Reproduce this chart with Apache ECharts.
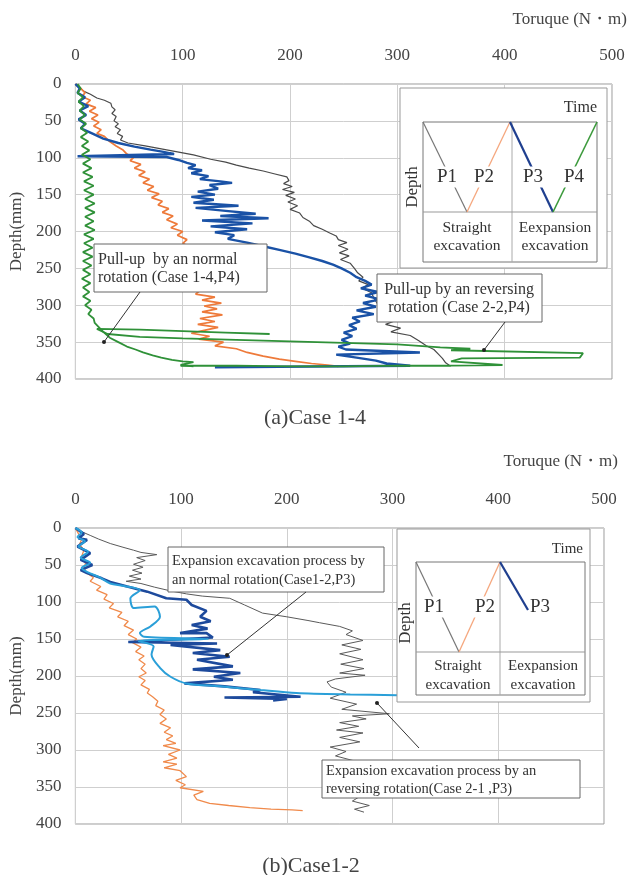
<!DOCTYPE html>
<html>
<head>
<meta charset="utf-8">
<script src="https://cdn.jsdelivr.net/npm/echarts@6/dist/echarts.min.js"></script>
<style>
  html, body { margin: 0; padding: 0; background: #fff; }
  #chart { width: 629px; height: 875px; }
</style>
</head>
<body>
<div id="chart"></div>
<script>
// (a) Case 1-4 : [torque N·m, depth mm]
const topP1Gray = [[0,0],[4,5],[8,10],[14,14],[20,19],[27,22],[33,26],[34,31],[37,35],[34,40],[38,44],[36,50],[40,54],[37,58],[42,62],[39,67],[44,71],[42,76],[49,80],[65,84],[80,88],[95,92],[110,96],[126,102],[140,106],[150,110],[162,114],[175,118],[186,122],[197,126],[199,131],[194,135],[202,139],[193,143],[204,147],[196,151],[205,156],[198,160],[207,165],[200,170],[209,175],[212,181],[218,186],[222,192],[230,197],[237,202],[243,206],[245,211],[253,215],[245,219],[254,224],[246,229],[255,233],[247,238],[256,243],[260,250],[263,256],[268,262],[264,267],[273,272],[267,277],[276,283],[278,290],[281,297],[285,304],[292,310],[287,315],[298,321],[289,326],[303,331],[294,336],[312,341],[320,348],[327,355],[334,360],[338,366],[342,372],[345,378],[349,382]];
const topP2Orange = [[0,0],[5,6],[9,12],[6,17],[14,22],[10,27],[19,32],[13,37],[21,42],[15,47],[22,52],[17,57],[24,62],[20,67],[27,71],[32,78],[38,84],[44,89],[48,95],[54,100],[51,104],[61,109],[55,114],[65,119],[59,124],[69,129],[63,134],[73,139],[67,144],[78,149],[71,154],[81,159],[77,164],[87,169],[81,174],[91,179],[85,184],[95,190],[89,195],[100,200],[95,205],[104,211],[100,216],[108,222],[104,230],[110,240],[106,250],[113,260],[110,270],[116,280],[112,285],[130,289],[118,293],[136,297],[120,301],[132,305],[118,309],[137,313],[116,318],[130,322],[114,326],[133,330],[120,334],[108,338],[125,342],[115,346],[138,350],[130,355],[150,359],[160,364],[175,369],[190,373],[205,376],[220,379],[235,381],[245,383]];
const topP3Blue = [[0,0],[4,6],[2,12],[9,18],[3,24],[12,30],[4,36],[10,42],[3,48],[9,54],[5,60],[14,66],[26,74],[40,80],[55,85],[70,89],[82,92],[92,95],[2,98],[85,99],[96,103],[104,107],[112,110],[105,114],[118,117],[108,121],[124,125],[116,129],[135,132],[146,134],[125,137],[133,142],[114,146],[130,150],[108,153],[129,157],[110,161],[152,165],[112,168],[140,172],[168,176],[135,179],[180,182],[118,185],[165,189],[126,193],[160,197],[130,201],[148,205],[142,210],[160,215],[175,220],[190,225],[205,230],[218,235],[230,240],[240,245],[248,250],[256,256],[262,262],[270,267],[276,272],[266,277],[282,282],[270,287],[284,292],[268,297],[280,302],[262,307],[278,312],[258,317],[265,322],[255,327],[262,332],[250,337],[258,342],[248,347],[256,352],[245,356],[252,360],[321,364],[243,367],[262,371],[280,375],[290,379],[312,382],[130,384]];
const topP4GreenNormal = [[2,0],[5,6],[2,12],[7,18],[3,24],[8,30],[4,36],[9,42],[4,48],[10,54],[5,60],[11,66],[5,72],[12,78],[6,84],[13,90],[6,96],[14,102],[7,108],[15,114],[7,120],[16,126],[8,132],[17,138],[8,144],[17,150],[9,156],[18,162],[9,168],[18,174],[9,180],[17,186],[9,192],[18,198],[8,204],[17,210],[8,216],[16,222],[7,228],[16,234],[7,240],[15,246],[7,252],[14,258],[6,264],[14,270],[7,276],[13,282],[7,288],[14,294],[9,300],[15,306],[12,312],[17,318],[18,324],[22,330],[26,336],[32,344],[40,350],[48,356],[56,360],[63,364],[72,368],[80,371],[90,374],[100,376],[110,377],[98,381],[110,383]];
const topP4GreenReverse = [[98,382],[150,382],[200,383],[250,383],[300,382],[350,382],[398,381],[350,376],[360,372],[470,371],[473,365],[350,361],[368,359],[340,357],[300,353],[250,351],[200,349],[150,347],[100,345],[60,343],[30,339],[20,332],[60,333],[100,335],[140,337],[181,339]];

// (b) Case 1-2
const botP1Gray = [[0,0],[6,5],[14,10],[22,15],[33,21],[45,26],[55,30],[62,33],[77,36],[58,40],[66,44],[55,49],[64,53],[54,57],[63,61],[51,65],[62,69],[48,72],[62,75],[75,80],[90,85],[105,89],[120,92],[146,95],[160,104],[177,115],[200,120],[220,125],[231,128],[250,133],[262,139],[256,144],[272,152],[252,158],[270,164],[250,170],[272,178],[251,184],[273,190],[250,196],[274,199],[246,204],[238,208],[242,215],[256,222],[241,230],[266,238],[252,245],[297,251],[262,254],[275,258],[250,263],[268,268],[247,273],[272,277],[250,283],[269,289],[241,296],[256,302],[246,308],[262,314],[250,322],[266,330],[252,338],[268,346],[255,354],[270,362],[262,369],[278,375],[264,380],[273,384]];
const botP2Orange = [[0,0],[3,8],[6,15],[4,22],[8,30],[6,38],[10,46],[8,54],[11,61],[17,67],[14,72],[24,79],[20,84],[30,90],[27,96],[36,102],[32,108],[44,114],[40,120],[50,126],[46,132],[55,138],[50,144],[58,150],[54,155],[62,161],[57,167],[65,173],[60,178],[66,184],[62,190],[67,196],[60,201],[66,206],[62,212],[70,218],[68,223],[73,228],[78,234],[76,240],[84,246],[80,252],[86,258],[80,264],[90,270],[84,276],[92,281],[86,286],[95,291],[83,294],[99,300],[88,306],[96,311],[83,316],[96,319],[84,324],[99,328],[105,336],[95,341],[104,347],[99,351],[121,356],[112,361],[115,367],[127,372],[145,375],[165,378],[185,380],[205,381],[215,382]];
const botP3Normal = [[0,0],[8,8],[3,14],[11,16],[2,25],[14,34],[5,43],[16,50],[5,57],[11,61],[25,68],[33,73],[49,79],[68,86],[86,95],[105,97],[110,104],[124,112],[118,120],[128,126],[110,131],[125,136],[99,142],[124,142],[130,148],[50,154],[134,156],[90,158],[137,165],[111,169],[146,174],[115,178],[149,187],[111,191],[156,196],[131,201],[149,205],[103,210],[141,214],[175,219],[168,222],[213,228],[141,229],[200,231],[187,233]];
const botP3Reverse = [[0,0],[6,6],[2,12],[9,18],[3,25],[12,32],[5,40],[14,47],[6,54],[12,60],[22,66],[33,75],[45,78],[61,84],[52,95],[55,108],[75,106],[80,120],[71,133],[61,142],[65,147],[126,150],[60,153],[74,160],[72,171],[80,189],[90,201],[105,210],[137,214],[175,219],[209,223],[260,225],[305,226]];

const serif = '"Liberation Serif", "DejaVu Serif", serif';
const chart = echarts.init(document.getElementById('chart'));

function lineSeries(name, data, gi, color, width, smooth) {
    return {
        name: name, type: 'line', xAxisIndex: gi, yAxisIndex: gi, data: data,
        symbol: 'none', animation: false, smooth: smooth || false,
        lineStyle: { color: color, width: width }, itemStyle: { color: color }
    };
}
function xAx(gi) {
    return {
        gridIndex: gi, type: 'value', position: 'top', min: 0, max: 500, interval: 100,
        axisLine: { show: false }, axisTick: { show: false },
        axisLabel: { margin: 20, fontFamily: serif, fontSize: 17, color: '#444' },
        splitLine: { lineStyle: { color: '#cfcfcf' } }
    };
}
function yAx(gi) {
    return {
        gridIndex: gi, type: 'value', inverse: true, min: 0, max: 400, interval: 50,
        name: 'Depth(mm)', nameLocation: 'middle', nameRotate: 90, nameGap: 50,
        nameTextStyle: { fontFamily: serif, fontSize: 17, color: '#444' },
        axisLine: { show: false }, axisTick: { show: false },
        axisLabel: { margin: 14, fontFamily: serif, fontSize: 17, color: '#444' },
        splitLine: { lineStyle: { color: '#cfcfcf' } }
    };
}
function txt(x, y, text, size, align, extra) {
    return { type: 'text', x: x, y: y, z: 100,
        style: Object.assign({ text: text, fill: '#333', font: size + 'px ' + serif,
            textAlign: align || 'left', textVerticalAlign: 'middle' }, extra || {}) };
}
function vtxt(x, y, text, size) {
    return { type: 'text', x: x, y: y, z: 100, rotation: Math.PI / 2,
        style: { text: text, fill: '#333', font: size + 'px ' + serif, textAlign: 'center', textVerticalAlign: 'middle' } };
}
function seg(x1, y1, x2, y2, color, w) {
    return { type: 'line', z: 100, shape: { x1: x1, y1: y1, x2: x2, y2: y2 },
        style: { stroke: color, lineWidth: w || 1 } };
}
function box(x, y, w, h, stroke) {
    return { type: 'rect', z: 99, shape: { x: x, y: y, width: w, height: h },
        style: { fill: '#fff', stroke: stroke || '#666', lineWidth: 1 } };
}
function frame(x, y, w, h, stroke) {
    return { type: 'rect', z: 100, shape: { x: x, y: y, width: w, height: h },
        style: { fill: 'none', stroke: stroke || '#777', lineWidth: 1 } };
}
function dot(x, y) {
    return { type: 'circle', z: 101, shape: { cx: x, cy: y, r: 2 }, style: { fill: '#222' } };
}
const pBg = { backgroundColor: '#fff', padding: [1, 1] };

const graphics = [
    // captions and axis titles
    txt(627, 20, 'Toruque (N・m)', 17, 'right', { fill: '#444' }),
    txt(315, 418, '(a)Case 1-4', 22, 'center', { fill: '#444' }),
    txt(618, 462, 'Toruque (N・m)', 17, 'right', { fill: '#444' }),
    txt(311, 866, '(b)Case1-2', 22, 'center', { fill: '#444' }),

    // top inset schematic
    box(400, 88, 207, 180, '#999'),
    frame(423, 122, 174, 140, '#777'),
    seg(512, 122, 512, 262, '#aaa'),
    seg(423, 212, 597, 212, '#999'),
    seg(423, 122, 467, 212, '#777', 1.2),
    seg(467, 212, 510, 122, '#f5a77e', 1.3),
    seg(510, 122, 553, 212, '#1f3f8f', 2.2),
    seg(553, 212, 597, 122, '#3c9a3c', 1.6),
    txt(597, 108, 'Time', 16, 'right'),
    vtxt(413, 187, 'Depth', 17),
    txt(447, 177, 'P1', 19, 'center', pBg),
    txt(484, 177, 'P2', 19, 'center', pBg),
    txt(533, 177, 'P3', 19, 'center', pBg),
    txt(574, 177, 'P4', 19, 'center', pBg),
    txt(467, 228, 'Straight', 15.5, 'center'),
    txt(467, 246, 'excavation', 15.5, 'center'),
    txt(555, 228, 'Eexpansion', 15.5, 'center'),
    txt(555, 246, 'excavation', 15.5, 'center'),

    // bottom inset schematic
    box(397, 529, 193, 173, '#999'),
    frame(416, 562, 169, 133, '#777'),
    seg(500, 562, 500, 695, '#aaa'),
    seg(416, 652, 585, 652, '#999'),
    seg(416, 562, 459, 652, '#777', 1.2),
    seg(459, 652, 500, 562, '#f5a77e', 1.3),
    seg(500, 562, 528, 610, '#1f3f8f', 2.2),
    txt(583, 549, 'Time', 15, 'right'),
    vtxt(406, 623, 'Depth', 17),
    txt(434, 607, 'P1', 19, 'center', pBg),
    txt(485, 607, 'P2', 19, 'center', pBg),
    txt(540, 607, 'P3', 19, 'center'),
    txt(458, 666, 'Straight', 15, 'center'),
    txt(458, 685, 'excavation', 15, 'center'),
    txt(543, 666, 'Eexpansion', 15, 'center'),
    txt(543, 685, 'excavation', 15, 'center'),

    // top annotations
    box(94, 244, 173, 48, '#666'),
    txt(98, 260, 'Pull-up  by an normal', 16),
    txt(98, 278, 'rotation (Case 1-4,P4)', 16),
    seg(140, 292, 104, 342, '#333'),
    dot(104, 342),
    box(377, 274, 165, 48, '#666'),
    txt(459, 290, 'Pull-up by an reversing', 16, 'center'),
    txt(459, 308, 'rotation (Case 2-2,P4)', 16, 'center'),
    seg(505, 322, 484, 350, '#333'),
    dot(484, 350),

    // bottom annotations
    box(168, 547, 216, 45, '#666'),
    txt(172, 561, 'Expansion excavation process by', 14.5),
    txt(172, 580, 'an normal rotation(Case1-2,P3)', 14.5),
    seg(306, 592, 227, 655, '#333'),
    dot(227, 655),
    box(322, 760, 258, 38, '#666'),
    txt(326, 771, 'Expansion excavation process by an', 14.5),
    txt(326, 789, 'reversing rotation(Case 2-1 ,P3)', 14.5),
    seg(419, 748, 377, 703, '#333'),
    dot(377, 703)
];

const option = {
    backgroundColor: '#fff',
    animation: false,
    grid: [
        { left: 73, top: 84, width: 539, height: 295, show: true, borderColor: '#9a9a9a', borderWidth: 1 },
        { left: 75, top: 528, width: 529, height: 296, show: true, borderColor: '#9a9a9a', borderWidth: 1 }
    ],
    xAxis: [xAx(0), xAx(1)],
    yAxis: [yAx(0), yAx(1)],
    series: [
        lineSeries('P1', topP1Gray, 0, '#4a4a4a', 1.2),
        lineSeries('P2', topP2Orange, 0, '#ee7a3a', 1.7),
        lineSeries('P3', topP3Blue, 0, '#1a52a6', 2.4),
        lineSeries('P4 normal', topP4GreenNormal, 0, '#2f9138', 1.8),
        lineSeries('P4 reversing', topP4GreenReverse, 0, '#2f9138', 1.8),
        lineSeries('P1', botP1Gray, 1, '#5a5a5a', 1),
        lineSeries('P2', botP2Orange, 1, '#f08a4b', 1.3),
        lineSeries('P3 normal', botP3Normal, 1, '#1d4a9c', 2.6),
        lineSeries('P3 reversing', botP3Reverse, 1, '#2a9fd8', 2, 0.3)
    ],
    graphic: { elements: graphics }
};

chart.setOption(option);
</script>
</body>
</html>
